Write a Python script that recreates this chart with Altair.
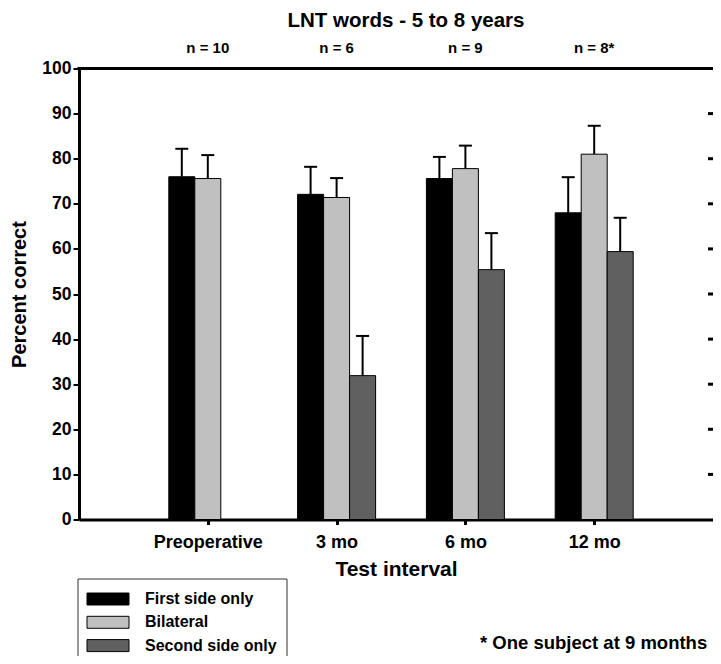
import json
import altair as alt
import pandas as pd

# ---------------- data ----------------
categories = ["Preoperative", "3 mo", "6 mo", "12 mo"]
n_labels = ["n = 10", "n = 6", "n = 9", "n = 8*"]
series = ["First side only", "Bilateral", "Second side only"]
colors = ["#000000", "#c0c0c0", "#606060"]

first_side = [76.0, 72.1, 75.6, 68.0]
first_side_err = [6.2, 6.1, 4.8, 7.9]
bilateral = [75.6, 71.4, 77.8, 81.0]
bilateral_err = [5.2, 4.3, 5.1, 6.3]
second_side = [None, 31.9, 55.4, 59.4]
second_side_err = [None, 8.8, 8.1, 7.5]

y_ticks = [0, 10, 20, 30, 40, 50, 60, 70, 80, 90, 100]

title_text = "LNT words - 5 to 8 years"
x_title = "Test interval"
y_title = "Percent correct"
footnote = "* One subject at 9 months"

# ---------------- layout ----------------
W, H = 634, 451
STEP_PX = 128.8
XMAX = W / STEP_PX
BAR = 26 / STEP_PX
CAP = 6.5 / STEP_PX
FONT = "Liberation Sans"

rows = []
for s_i, (vals, errs) in enumerate(zip([first_side, bilateral, second_side],
                                       [first_side_err, bilateral_err, second_side_err])):
    for c_i, (v, e) in enumerate(zip(vals, errs)):
        if v is None:
            continue
        rows.append({"cat": c_i + 1, "series": series[s_i], "s": s_i,
                     "value": v, "upper": v + e})
df = pd.DataFrame(rows)

xs = alt.Scale(domain=[0, XMAX], nice=False, zero=False)
ys = alt.Scale(domain=[0, 100], nice=False)
cs = alt.Scale(domain=series, range=colors)

x_axis = alt.Axis(values=[1, 2, 3, 4],
                  labelExpr=f"{json.dumps(categories)}[datum.value - 1]",
                  title=x_title, grid=False, domainWidth=3, tickWidth=3, tickSize=5,
                  labelPadding=9, labelFontSize=18, labelFontWeight="bold",
                  titleFontSize=21, titleFontWeight="bold", titlePadding=7)
y_axis = alt.Axis(values=y_ticks, title=y_title, grid=False, domainWidth=3,
                  tickWidth=2, tickSize=6, labelPadding=2, labelFontSize=17.5,
                  labelFontWeight="bold", titleFontSize=20, titleFontWeight="bold",
                  titlePadding=12)

base = alt.Chart(df).transform_calculate(
    xc=f"datum.cat + (datum.s - 1) * {BAR}"
).transform_calculate(
    x0=f"datum.xc - {BAR / 2}",
    x1=f"datum.xc + {BAR / 2}",
    c0=f"datum.xc - {CAP}",
    c1=f"datum.xc + {CAP}",
)

err_lines = base.mark_rule(color="black", strokeWidth=2).encode(
    x=alt.X("xc:Q", scale=xs, axis=x_axis),
    y=alt.Y("value:Q", scale=ys, axis=y_axis),
    y2="upper:Q",
)
caps = base.mark_rule(color="black", strokeWidth=2).encode(
    x=alt.X("c0:Q", scale=xs), x2="c1:Q", y=alt.Y("upper:Q", scale=ys)
)
bars = base.mark_rect(stroke="black", strokeWidth=1).encode(
    x=alt.X("x0:Q", scale=xs),
    x2="x1:Q",
    y=alt.Y("value:Q", scale=ys),
    y2=alt.datum(0),
    color=alt.Color("series:N", scale=cs, legend=None),
)

ndf = pd.DataFrame({"cat": [1, 2, 3, 4], "label": n_labels})
n_text = alt.Chart(ndf).mark_text(font=FONT, fontSize=15, fontWeight="bold",
                                  baseline="middle").encode(
    x=alt.X("cat:Q", scale=xs), y=alt.value(-20.5), text="label:N"
)

one = pd.DataFrame({"a": [0]})
top_line = alt.Chart(one).mark_rule(color="black", strokeWidth=3).encode(
    x=alt.value(-1.5), x2=alt.value(W), y=alt.value(0)
)
right_ticks = alt.Chart(pd.DataFrame({"t": y_ticks[1:-1]})).mark_rule(
    color="black", strokeWidth=3).encode(
    x=alt.value(W - 5), x2=alt.value(W), y=alt.Y("t:Q", scale=ys)
)

title = alt.Chart(pd.DataFrame({"t": [title_text]})).mark_text(
    font=FONT, fontSize=20.5, fontWeight="bold", baseline="middle").encode(
    x=alt.value(327), y=alt.value(-48), text="t:N"
)
foot = alt.Chart(pd.DataFrame({"t": [footnote]})).mark_text(
    font=FONT, fontSize=18.5, fontWeight="bold", baseline="middle", align="left").encode(
    x=alt.value(401), y=alt.value(574.5), text="t:N"
)

legend_box = alt.Chart(one).mark_rect(fill="white", stroke="#333333", strokeWidth=1).encode(
    x=alt.value(-1), x2=alt.value(208), y=alt.value(510.5), y2=alt.value(650)
)
legend_layers = [legend_box]
for i, name in enumerate(series):
    yc = 530.5 + i * 23.3
    ldf = pd.DataFrame({"series": [name]})
    legend_layers.append(
        alt.Chart(ldf).mark_rect(stroke="black", strokeWidth=1).encode(
            x=alt.value(8), x2=alt.value(50), y=alt.value(yc - 6), y2=alt.value(yc + 6),
            color=alt.Color("series:N", scale=cs, legend=None),
        )
    )
    legend_layers.append(
        alt.Chart(ldf).mark_text(font=FONT, fontSize=16, fontWeight="bold",
                                 align="left", baseline="middle").encode(
            x=alt.value(66), y=alt.value(yc), text="series:N"
        )
    )

chart = alt.layer(
    err_lines, caps, bars, n_text, top_line, right_ticks, title, foot, *legend_layers
).properties(
    width=W, height=H,
    autosize=alt.AutoSizeParams(type="none"),
    padding={"left": 71, "top": 60.5, "right": 0, "bottom": 136.5},
).configure_view(stroke=None).configure_axis(
    labelFont=FONT, titleFont=FONT, labelColor="black", titleColor="black",
    domainColor="black", tickColor="black",
)

chart.save("out.html", embed_options={"renderer": "svg", "actions": False})
